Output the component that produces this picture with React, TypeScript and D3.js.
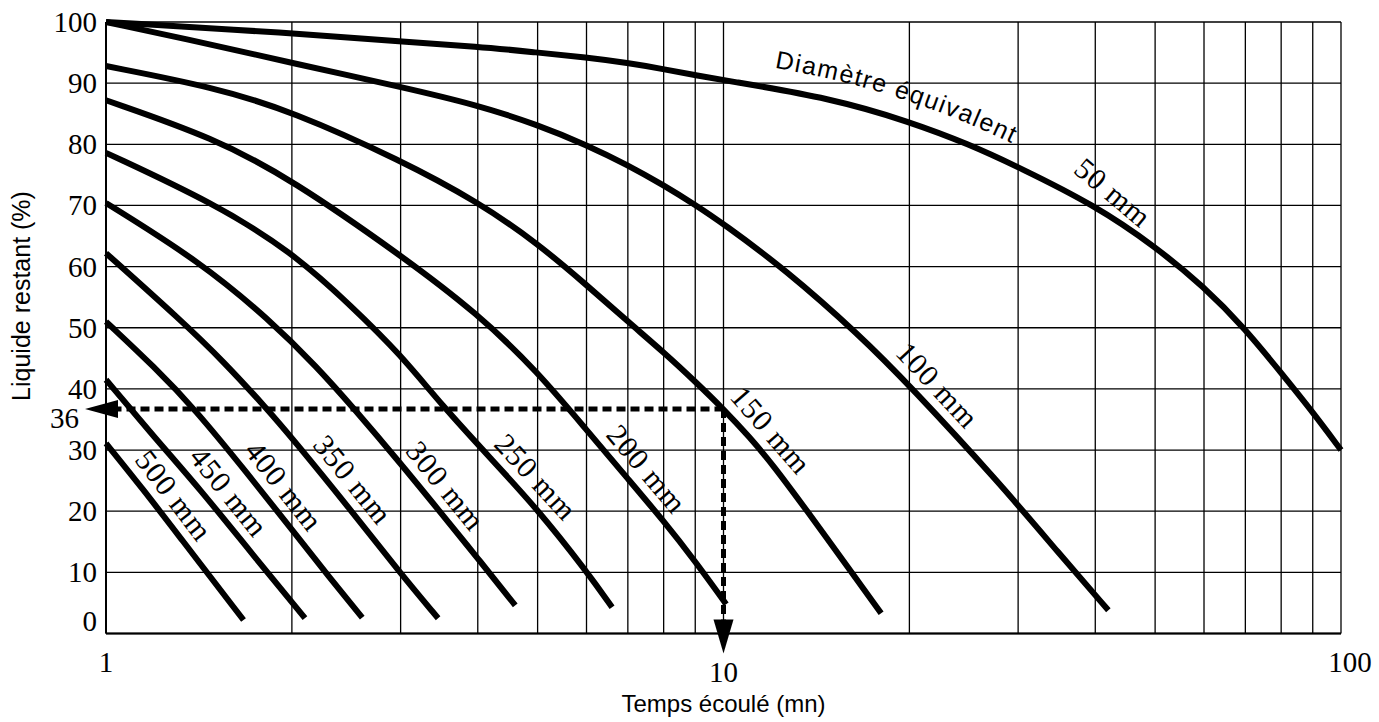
import React from "react";
import * as d3 from "d3";

const WIDTH = 1379;
const HEIGHT = 722;

// ---- axes / ticks ----
const yTickValues = [0, 10, 20, 30, 40, 50, 60, 70, 80, 90, 100];
const xGridValues = [1, 2, 3, 4, 5, 6, 7, 8, 9, 10, 20, 30, 40, 50, 60, 70, 80, 90, 100];
const xTickLabels = [1, 10, 100];

// ---- series: [time (mn), liquid remaining (%)] ----
const d50 = [[1, 100], [2, 98.2], [3, 96.8], [4, 96], [5, 95], [6, 94.2], [7, 93.3], [8, 92.3], [9, 91.3], [10, 90.5], [15, 87.5], [20, 83.7], [25, 80], [30, 76.3], [40, 70], [50, 63.3], [60, 56.7], [70, 49.8], [80, 42.6], [90, 36.2], [100, 30]];
const d100 = [[1, 100], [1.5, 96.2], [2, 93.3], [3, 89.4], [4, 86.4], [5, 83.2], [6, 79.9], [7, 76.6], [8, 73.3], [9, 70.1], [10, 67], [12.6, 59.5], [16.6, 48.8], [20, 40.6], [28, 24.6], [35, 13], [42, 3.8]];
const d150 = [[1, 92.8], [1.5, 89.3], [2, 85.4], [3, 77.4], [4, 70.6], [5, 63.8], [6, 57], [7, 51], [8, 46], [9, 41.2], [10, 36.7], [11, 32.2], [12, 27.7], [13.6, 20.3], [16, 10.5], [18, 3.3]];
const d200 = [[1, 87.2], [1.5, 81], [2, 74.2], [3, 61.9], [4, 52.3], [5, 42.8], [6, 33.3], [7, 25.3], [8, 18.4], [9, 11.8], [10.1, 4.8]];
const d250 = [[1, 78.6], [1.5, 70.3], [2, 62.4], [2.5, 53.5], [3, 45.6], [3.5, 37.3], [4.2, 28.6], [5, 20.3], [6, 10.2], [6.6, 4.3]];
const d300 = [[1, 70.4], [1.42, 60.8], [1.84, 51.3], [2.2, 43.5], [2.52, 36.8], [3, 27.8], [3.5, 19.5], [4, 12.3], [4.6, 4.6]];
const d350 = [[1, 62.2], [1.32, 51.3], [1.55, 44.5], [1.82, 36.8], [2, 32], [2.5, 20], [3, 9.8], [3.45, 2.5]];
const d400 = [[1, 51], [1.2, 43.5], [1.39, 36.8], [1.7, 26], [2, 17], [2.3, 9.2], [2.6, 2.6]];
const d450 = [[1, 41.5], [1.2, 32], [1.42, 23.6], [1.7, 13.8], [2.1, 2.5]];
const d500 = [[1, 31.1], [1.15, 23.5], [1.3, 16.5], [1.67, 2.2]];

const seriesNames = ["50 mm", "100 mm", "150 mm", "200 mm", "250 mm", "300 mm", "350 mm", "400 mm", "450 mm", "500 mm"];
const seriesData = [d50, d100, d150, d200, d250, d300, d350, d400, d450, d500];
// where (in % remaining) each curve's label sits
const labelAtY = [69.2, 38.3, 31, 24.7, 23.3, 22, 23, 22, 21, 20.5];
const labelAngleOverride: (number | null)[] = [40, null, null, null, null, null, null, null, null, null];

// read-out example
const readoutX = 10;
const readoutY = 36.7;
const readoutLabel = "36";

const xTitle = "Temps écoulé (mn)";
const yTitle = "Liquide restant (%)";
const curveTitle = "Diamètre équivalent";

const SERIF = "'Liberation Serif', 'Times New Roman', serif";
const SANS = "'Liberation Sans', Arial, Helvetica, sans-serif";

export default function App() {
  const x = d3.scaleLog().domain([1, 100]).range([106, 1341]);
  const y = d3.scaleLinear().domain([0, 100]).range([633.5, 22]);

  const line = d3
    .line<number[]>()
    .x((d) => x(d[0]))
    .y((d) => y(d[1]))
    .curve(d3.curveBasis);

  const pointAtY = (s: number[][], yv: number): [number, number] => {
    for (let i = 0; i < s.length - 1; i++) {
      const a = s[i], b = s[i + 1];
      if ((a[1] >= yv && b[1] <= yv) || (a[1] <= yv && b[1] >= yv)) {
        const t = (a[1] - yv) / (a[1] - b[1] || 1);
        const px = x(a[0]) + t * (x(b[0]) - x(a[0]));
        return [px, y(yv)];
      }
    }
    const last = s[s.length - 1];
    return [x(last[0]), y(last[1])];
  };

  const labels = seriesData.map((s, i) => {
    const yv = labelAtY[i];
    const p = pointAtY(s, yv);
    const p1 = pointAtY(s, yv + 3);
    const p2 = pointAtY(s, yv - 3);
    const theta = Math.atan2(p2[1] - p1[1], p2[0] - p1[0]);
    const off = 21;
    const cx = p[0] + Math.sin(theta) * off;
    const cy = p[1] - Math.cos(theta) * off;
    const ang = labelAngleOverride[i] ?? (theta * 180) / Math.PI;
    return { cx, cy, ang, text: seriesNames[i] };
  });

  const titlePath =
    d3
      .line<number[]>()
      .x((d) => x(d[0]))
      .y((d) => y(d[1]) - 21)
      .curve(d3.curveBasis)(d50.filter((d) => d[0] >= 10)) || "";

  const rx = x(readoutX);
  const ry = y(readoutY);
  const x0 = x(1);
  const yb = y(0);

  const hTip = x0 - 21;
  const hBase = hTip + 33;
  const vTip = yb + 20;
  const vBase = vTip - 34;

  return (
    <svg
      width={WIDTH}
      height={HEIGHT}
      style={{ position: "absolute", left: 0, top: 0, background: "#fff" }}
    >
      <rect x={0} y={0} width={WIDTH} height={HEIGHT} fill="#fff" />
      {/* grid */}
      <g stroke="#000" strokeWidth={1.3}>
        {xGridValues.map((v) => (
          <line key={"gx" + v} x1={x(v)} x2={x(v)} y1={y(100)} y2={y(0)} />
        ))}
        {yTickValues.map((v) => (
          <line key={"gy" + v} x1={x(1)} x2={x(100)} y1={y(v)} y2={y(v)} />
        ))}
      </g>
      <line x1={x(1)} x2={x(1)} y1={y(100)} y2={y(0)} stroke="#000" strokeWidth={2} />
      <line x1={x(1)} x2={x(100)} y1={y(0)} y2={y(0)} stroke="#000" strokeWidth={1.8} />

      {/* curves */}
      <g fill="none" stroke="#000" strokeWidth={6}>
        {seriesData.map((s, i) => (
          <path key={"c" + i} d={line(s) || ""} />
        ))}
      </g>

      {/* read-out dashed lines */}
      <g fill="none" stroke="#000" strokeWidth={5} strokeDasharray="9 5">
        <line x1={rx} x2={hBase} y1={ry} y2={ry} />
        <line x1={rx} x2={rx} y1={ry} y2={vBase} />
      </g>
      <polygon points={`${hTip},${ry} ${hBase},${ry - 9} ${hBase},${ry + 9}`} fill="#000" />
      <polygon points={`${rx},${vTip} ${rx - 10},${vBase} ${rx + 10},${vBase}`} fill="#000" />

      {/* curve labels */}
      <g fontFamily={SERIF} fontSize={30} fill="#000">
        {labels.map((l, i) => (
          <text
            key={"l" + i}
            transform={`translate(${l.cx},${l.cy}) rotate(${l.ang})`}
            textAnchor="middle"
            dominantBaseline="central"
            letterSpacing={1}
          >
            {l.text}
          </text>
        ))}
      </g>

      {/* curve family title on path */}
      <path id="diamPath" d={titlePath} fill="none" stroke="none" />
      <text fontFamily={SANS} fontSize={25} letterSpacing={1.5} fill="#000">
        <textPath href="#diamPath" startOffset={52}>
          {curveTitle}
        </textPath>
      </text>

      {/* y tick labels */}
      <g fontFamily={SERIF} fontSize={29} fill="#000" textAnchor="end">
        {yTickValues.map((v) => (
          <text key={"yt" + v} x={97} y={v === 0 ? y(v) - 13 : y(v)} dominantBaseline="central">
            {v}
          </text>
        ))}
        <text x={79} y={ry + 9} dominantBaseline="central">
          {readoutLabel}
        </text>
      </g>

      {/* x tick labels */}
      <g fontFamily={SERIF} fontSize={29} fill="#000" textAnchor="middle">
        {xTickLabels.map((v) => (
          <text
            key={"xt" + v}
            x={x(v) + (v === 100 ? 9 : 0)}
            y={v === 10 ? yb + 48 : yb + 38}
          >
            {v}
          </text>
        ))}
      </g>

      {/* axis titles */}
      <text
        x={x(10)}
        y={712}
        textAnchor="middle"
        fontFamily={SANS}
        fontSize={24}
        fill="#000"
      >
        {xTitle}
      </text>
      <text
        transform={`translate(30,296) rotate(-90)`}
        textAnchor="middle"
        fontFamily={SANS}
        fontSize={25}
        fill="#000"
      >
        {yTitle}
      </text>
    </svg>
  );
}
